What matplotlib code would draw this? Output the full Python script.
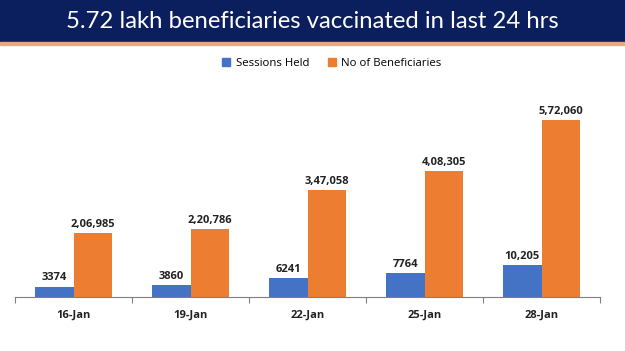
import matplotlib.pyplot as plt
from matplotlib.patches import Rectangle
import numpy as np

dates = ["16-Jan", "19-Jan", "22-Jan", "25-Jan", "28-Jan"]
sessions = [3374, 3860, 6241, 7764, 10205]
beneficiaries = [206985, 220786, 347058, 408305, 572060]
title = "5.72 lakh beneficiaries vaccinated in last 24 hrs"

blue = "#4472C4"
orange = "#ED7D31"


def indian_format(n):
    s = str(n)
    if len(s) <= 3:
        return s
    head, tail = s[:-3], s[-3:]
    parts = []
    while len(head) > 2:
        parts.insert(0, head[-2:])
        head = head[:-2]
    if head:
        parts.insert(0, head)
    return ",".join(parts) + "," + tail


fig = plt.figure(figsize=(6.25, 3.51), dpi=100)
fig.patches.append(Rectangle((0, 1 - 42 / 351), 1, 42 / 351, transform=fig.transFigure,
                             color="#0b1f5e", zorder=0))
fig.patches.append(Rectangle((0, 1 - 45 / 351), 1, 3 / 351, transform=fig.transFigure,
                             color="#e9a77a", zorder=0))
fig.text(0.5, 1 - 21 / 351, title, color="white", fontsize=17.2, family="Lato",
         ha="center", va="center")

ax = fig.add_axes([15 / 625, 54 / 351, 585 / 625, 207 / 351])
ax2 = ax.twinx()
ax.set_zorder(2)
ax.patch.set_visible(False)

x = np.arange(len(dates))
w = 0.333
ax.bar(x + w / 2, beneficiaries, w, color=orange, label="No of Beneficiaries")
ax2.bar(x - w / 2, sessions, w, color=blue, label="Sessions Held")

ymax = 207 * 3232
ax.set_ylim(0, ymax)
ax2.set_ylim(0, ymax / 10)
ax.set_xlim(-0.5, len(dates) - 0.5)

for xi, v in zip(x, beneficiaries):
    ax.text(xi + w / 2, v + ymax * 0.015, indian_format(v), ha="center", va="bottom",
            fontsize=8, fontweight="bold", family="Open Sans", color="#222222")
for xi, v in zip(x, sessions):
    ax2.text(xi - w / 2, v + ymax / 10 * 0.015, indian_format(v) if v >= 10000 else str(v),
             ha="center", va="bottom", fontsize=8, fontweight="bold", family="Open Sans",
             color="#222222")

for a in (ax, ax2):
    for s in ["top", "right", "left"]:
        a.spines[s].set_visible(False)
    a.set_yticks([])
ax2.spines["bottom"].set_visible(False)
ax.spines["bottom"].set_color("#7f7f7f")
ax.set_xticks(np.arange(-0.5, len(dates), 1.0))
ax.set_xticklabels([])
ax.tick_params(axis="x", which="major", length=4, color="#7f7f7f", direction="out")
ax.set_xticks(x, minor=True)
ax.set_xticklabels(dates, minor=True, fontsize=8, fontweight="bold", family="Open Sans",
                   color="#222222")
ax.tick_params(axis="x", which="minor", length=0, pad=9)

handles = [Rectangle((0, 0), 1, 1, color=blue), Rectangle((0, 0), 1, 1, color=orange)]
fig.legend(handles, ["Sessions Held", "No of Beneficiaries"], loc="center",
           bbox_to_anchor=(332 / 625, 1 - 63 / 351), ncol=2, frameon=False,
           prop={"family": "Open Sans", "size": 8.2}, handlelength=0.7, handleheight=0.7,
           columnspacing=1.6, handletextpad=0.5)

fig.savefig("out.png", dpi=100)
